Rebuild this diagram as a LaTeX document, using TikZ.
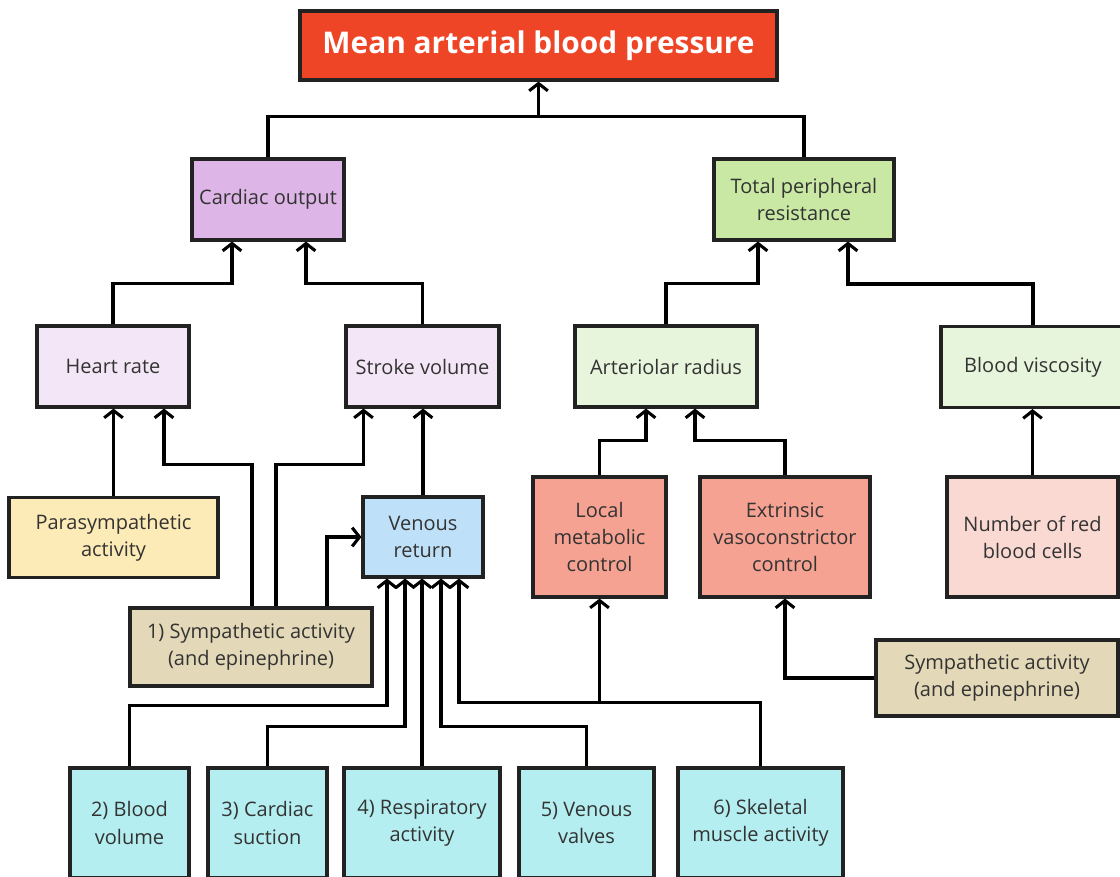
\documentclass[tikz,border=0pt]{standalone}
\usepackage{fontspec}
\setmainfont{Open Sans}
\usetikzlibrary{arrows.meta,calc}
\definecolor{boxline}{HTML}{222222}
\definecolor{txt}{HTML}{333333}
\definecolor{mapred}{HTML}{EF4527}
\definecolor{cardiac}{HTML}{DDB5E6}
\definecolor{resist}{HTML}{C8E8A4}
\definecolor{lilac}{HTML}{F3E6F7}
\definecolor{palegreen}{HTML}{E7F5DC}
\definecolor{parayellow}{HTML}{FCEBB6}
\definecolor{venblue}{HTML}{BEE0F8}
\definecolor{salmon}{HTML}{F5A292}
\definecolor{rosy}{HTML}{FAD9D3}
\definecolor{symtan}{HTML}{E3D8B7}
\definecolor{factor}{HTML}{B5EEF0}
\tikzset{
  box/.style={draw=boxline, line width=2.3pt, inner sep=0pt, align=center, text=txt,
    font=\fontsize{15}{20.3}\selectfont},
  link/.style={line width=2.3pt, draw=black, line join=miter},
  up/.style={link, -{Straight Barb[length=5.5pt,width=14pt]}}
}
\begin{document}
\begin{tikzpicture}[x=0.75pt, y=-0.75pt]
\useasboundingbox (0,0) rectangle (1120,877);
\fill[white] (0,0) rectangle (1120,877);
\clip (0,0) rectangle (1120,877);

% top level
\node[box, fill=mapred, text=white, font=\fontsize{22.4}{26}\selectfont\bfseries, minimum width=357.75pt, minimum height=51.75pt] (map) at (538.5,45.5) {Mean arterial blood pressure};
\node[box, fill=cardiac, minimum width=114pt, minimum height=60.75pt] (co) at (268,199.5) {Cardiac output};
\node[box, fill=resist, minimum width=135pt, minimum height=60.75pt] (tpr) at (804,199.5) {Total peripheral\\resistance};

% second level
\node[box, fill=lilac, minimum width=114pt, minimum height=60.75pt] (hr) at (113,366.5) {Heart rate};
\node[box, fill=lilac, minimum width=114.75pt, minimum height=60.75pt] (sv) at (422.5,366.5) {Stroke volume};
\node[box, fill=palegreen, minimum width=136.5pt, minimum height=60.75pt] (ar) at (666,366.5) {Arteriolar radius};
\node[box, fill=palegreen, minimum width=138pt, minimum height=60.75pt] (bv) at (1033,367) {Blood viscosity};

% third level
\node[box, fill=parayellow, minimum width=156.75pt, minimum height=60pt] (para) at (113.5,537.5) {Parasympathetic\\activity};
\node[box, fill=venblue, minimum width=90pt, minimum height=60pt] (vr) at (423,537) {Venous\\return};
\node[box, fill=salmon, minimum width=99.75pt, minimum height=90pt] (lm) at (599.5,537) {Local\\metabolic\\control};
\node[box, fill=salmon, minimum width=127.5pt, minimum height=90pt] (ev) at (785,537) {Extrinsic\\vasoconstrictor\\control};
\node[box, fill=rosy, minimum width=128.25pt, minimum height=90pt] (rbc) at (1032.5,537) {Number of red\\blood cells};
\node[box, fill=symtan, minimum width=181.5pt, minimum height=58.5pt] (sym) at (251,647) {1) Sympathetic activity\\(and epinephrine)};
\node[box, fill=symtan, minimum width=181.5pt, minimum height=57pt] (symr) at (997,678) {Sympathetic activity\\(and epinephrine)};

% venous return factors
\node[box, fill=factor, minimum width=89.25pt, minimum height=82.5pt] (bvol) at (129.5,823) {2) Blood\\volume};
\node[box, fill=factor, minimum width=89.25pt, minimum height=82.5pt] (suct) at (267.5,823) {3) Cardiac\\suction};
\node[box, fill=factor, minimum width=117pt, minimum height=82.5pt] (resp) at (422,823) {4) Respiratory\\activity};
\node[box, fill=factor, minimum width=101.25pt, minimum height=82.5pt] (valv) at (586.5,823) {5) Venous\\valves};
\node[box, fill=factor, minimum width=123.75pt, minimum height=82.5pt] (skel) at (760.5,823) {6) Skeletal\\muscle activity};

% connectors
\coordinate (jtop) at (538.5,118);
\draw[link] (co.north) -- ++(0,-41) -| (tpr.north);
\draw[up] (jtop) -- (map.south);
\draw[up] (hr.north) -- ++(0,-41) -| ($(co.south)+(-36,0)$);
\draw[up] (sv.north) -- ++(0,-41) -| ($(co.south)+(38,0)$);
\draw[up] (ar.north) -- ++(0,-41) -| ($(tpr.south)+(-46,0)$);
\draw[up] (bv.north) -- ++(0,-41) -| ($(tpr.south)+(44,0)$);
\draw[up] (para.north) -- (para.north |- hr.south);
\draw[up] ($(sym.north)+(1,0)$) -- ++(0,-142) -| ($(hr.south)+(51,0)$);
\draw[up] ($(sym.north)+(25,0)$) -- ++(0,-142) -| ($(sv.south)+(-59,0)$);
\draw[up] ($(sym.north)+(76,0)$) |- (vr.west);
\draw[up] (vr.north) -- (vr.north |- sv.south);
\draw[up] (lm.north) -- ++(0,-35) -| ($(ar.south)+(-20,0)$);
\draw[up] (ev.north) -- ++(0,-35) -| ($(ar.south)+(29,0)$);
\draw[up] (rbc.north) -- (rbc.north |- bv.south);
\draw[up] (symr.west) -| (ev.south);
\draw[up] (bvol.north) -- ++(0,-61) -| ($(vr.south)+(-36,0)$);
\draw[up] (suct.north) -- ++(0,-40) -| ($(vr.south)+(-18,0)$);
\draw[up] (resp.north) -- (resp.north |- vr.south);
\draw[up] (valv.north) -- ++(0,-40) -| ($(vr.south)+(18,0)$);
\coordinate (jskel) at ($(skel.north)+(0,-64)$);
\draw[up] (skel.north) -- (jskel) -| ($(vr.south)+(36,0)$);
\draw[up] (lm.south |- jskel) -- (lm.south);
\end{tikzpicture}
\end{document}
